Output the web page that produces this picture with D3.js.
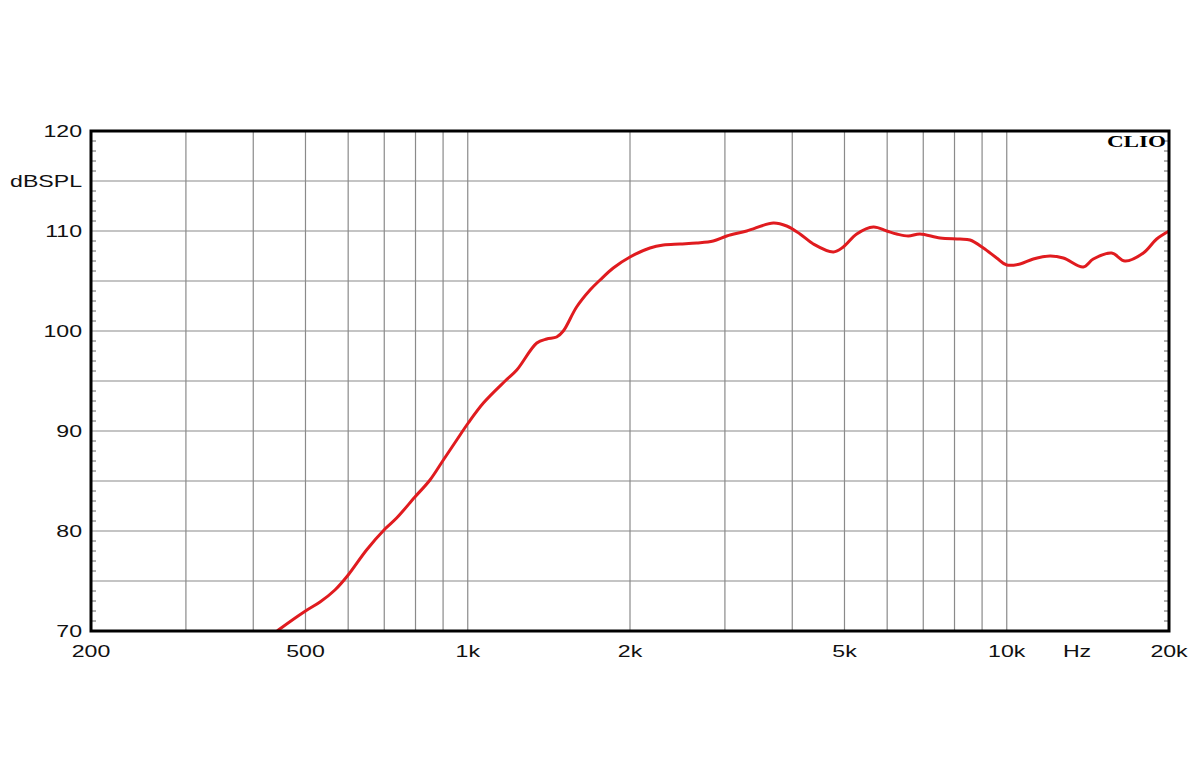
<!DOCTYPE html>
<html>
<head>
<meta charset="utf-8">
<script src="https://cdn.jsdelivr.net/npm/d3@7"></script>
<style>
  body { margin: 0; background: #fff; }
  .lbl { font-family: "Liberation Sans", Arial, sans-serif; font-size: 17px; fill: #111; }
</style>
</head>
<body>
<div id="chart"></div>
<script>
// Frequency response data (Hz, dB SPL)
var freq = [420, 443, 448, 500, 532, 567, 600, 649, 702, 738, 798, 851, 901, 954, 1002,
  1069, 1173, 1233, 1343, 1401, 1462, 1504, 1592, 1686, 1760, 1862, 2000, 2178, 2306, 2476,
  2659, 2854, 3024, 3293, 3690, 3906, 4135, 4377, 4769, 4974, 5268, 5657, 5990, 6250,
  6566, 6902, 7520, 8190, 8548, 9050, 9578, 10000, 10584, 11200, 12030, 12734, 13868,
  14474, 15658, 16570, 17924, 18976, 20000];
var spl = [69.0, 70.0, 70.2, 72.0, 72.9, 74.1, 75.6, 78.1, 80.2, 81.3, 83.4, 85.1, 87.1, 89.1, 90.8,
  92.8, 95.0, 96.1, 98.8, 99.2, 99.4, 100.0, 102.4, 104.1, 105.1, 106.3, 107.4, 108.3, 108.6, 108.7,
  108.8, 109.0, 109.5, 110.0, 110.8, 110.5, 109.7, 108.7, 107.9, 108.4, 109.7, 110.4, 110.0, 109.7,
  109.5, 109.7, 109.3, 109.2, 109.1, 108.3, 107.3, 106.6, 106.7, 107.2, 107.5, 107.3, 106.4,
  107.2, 107.8, 107.0, 107.8, 109.2, 110.0];

var xGrid = [300, 400, 500, 600, 700, 800, 900, 1000, 2000, 3000, 4000, 5000,
  6000, 7000, 8000, 9000, 10000];
var xLabels = [[200, "200"], [500, "500"], [1000, "1k"], [2000, "2k"], [5000, "5k"],
  [10000, "10k"], [13500, "Hz"], [20000, "20k"]];
var yGrid = [75, 80, 85, 90, 95, 100, 105, 110, 115];
var yLabels = [[120, "120"], [115, "dBSPL"], [110, "110"], [100, "100"], [90, "90"],
  [80, "80"], [70, "70"]];

var svgWidth = 1200, svgHeight = 780;
var margin = { top: 131, right: 31, bottom: 149, left: 91 };
var width = svgWidth - margin.left - margin.right;
var height = svgHeight - margin.top - margin.bottom;
var stretch = 1.36; // the source picture is widened, so its text is too

var svg = d3.select("#chart").append("svg")
  .attr("width", svgWidth)
  .attr("height", svgHeight);

var g = svg.append("g")
  .attr("transform", `translate(${margin.left}, ${margin.top})`);

var x = d3.scaleLog().domain([200, 20000]).range([0, width]);
var y = d3.scaleLinear().domain([70, 120]).range([height, 0]);

// grid
g.selectAll(".vg").data(xGrid).enter().append("line")
  .attr("x1", d => x(d)).attr("x2", d => x(d))
  .attr("y1", 0).attr("y2", height)
  .attr("stroke", "#8a8a8a").attr("stroke-width", 1.2);

g.selectAll(".hg").data(yGrid).enter().append("line")
  .attr("x1", 0).attr("x2", width)
  .attr("y1", d => y(d)).attr("y2", d => y(d))
  .attr("stroke", "#8a8a8a").attr("stroke-width", 1.2);

// small inward ticks every 1 dB on left and right
var minor = d3.range(71, 120).filter(d => d % 5 !== 0);
g.selectAll(".ml").data(minor).enter().append("line")
  .attr("x1", 0).attr("x2", 5)
  .attr("y1", d => y(d)).attr("y2", d => y(d))
  .attr("stroke", "#666").attr("stroke-width", 1);
g.selectAll(".mr").data(minor).enter().append("line")
  .attr("x1", width - 5).attr("x2", width)
  .attr("y1", d => y(d)).attr("y2", d => y(d))
  .attr("stroke", "#666").attr("stroke-width", 1);

// curve
g.append("clipPath").attr("id", "clip")
  .append("rect").attr("width", width).attr("height", height);

var line = d3.line()
  .x(d => x(d[0]))
  .y(d => y(d[1]))
  .curve(d3.curveCatmullRom.alpha(0.5));

g.append("path")
  .datum(d3.zip(freq, spl))
  .attr("clip-path", "url(#clip)")
  .attr("fill", "none")
  .attr("stroke", "#e01b1f")
  .attr("stroke-width", 3)
  .attr("d", line);

// frame
g.append("rect")
  .attr("width", width).attr("height", height)
  .attr("fill", "none").attr("stroke", "#000").attr("stroke-width", 3);

// labels
g.selectAll(".yl").data(yLabels).enter().append("text")
  .attr("class", "lbl")
  .attr("transform", d => `translate(-9, ${y(d[0]) + 6}) scale(${stretch}, 1)`)
  .attr("text-anchor", "end")
  .text(d => d[1]);

g.selectAll(".xl").data(xLabels).enter().append("text")
  .attr("class", "lbl")
  .attr("transform", d => `translate(${x(d[0])}, ${height + 26}) scale(${stretch}, 1)`)
  .attr("text-anchor", "middle")
  .text(d => d[1]);

g.append("text")
  .attr("transform", `translate(${width - 3}, 16) scale(${stretch}, 1)`)
  .attr("text-anchor", "end")
  .attr("font-family", "'Liberation Serif', 'DejaVu Serif', serif")
  .attr("font-weight", "bold")
  .attr("font-size", 17)
  .attr("fill", "#000")
  .text("CLIO");
</script>
</body>
</html>
